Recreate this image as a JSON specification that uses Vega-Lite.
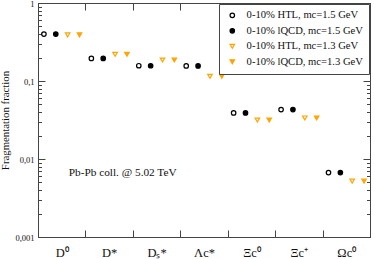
{
  "$schema": "https://vega.github.io/schema/vega-lite/v6.json",
  "width": 332,
  "height": 234,
  "autosize": "none",
  "padding": {"left": 38, "top": 3, "right": 4, "bottom": 22},
  "background": "white",
  "config": {
    "view": {"stroke": "#444", "strokeWidth": 1},
    "axis": {"domainColor": "#444", "tickColor": "#444", "labelFont": "Liberation Serif", "titleFont": "Liberation Serif", "labelColor": "#111", "titleColor": "#111", "grid": false, "titleFontWeight": "normal"},
    "legend": {"orient": "top-right", "offset": 1, "padding": 6, "rowPadding": 4.5, "symbolSize": 20, "symbolStrokeWidth": 1.2, "labelFont": "Liberation Serif", "labelFontSize": 10.6, "labelColor": "#111", "strokeColor": "#444", "fillColor": "white", "labelLimit": 0, "symbolOffset": 2, "labelOffset": 9}
  },
  "datasets": {
    "pts": [
      {"cat": "D⁰", "series": "0-10% HTL, mc=1.5 GeV", "value": 0.40},
      {"cat": "D⁰", "series": "0-10% lQCD, mc=1.5 GeV", "value": 0.40},
      {"cat": "D⁰", "series": "0-10% HTL, mc=1.3 GeV", "value": 0.39},
      {"cat": "D⁰", "series": "0-10% lQCD, mc=1.3 GeV", "value": 0.39},
      {"cat": "D*", "series": "0-10% HTL, mc=1.5 GeV", "value": 0.195},
      {"cat": "D*", "series": "0-10% lQCD, mc=1.5 GeV", "value": 0.195},
      {"cat": "D*", "series": "0-10% HTL, mc=1.3 GeV", "value": 0.22},
      {"cat": "D*", "series": "0-10% lQCD, mc=1.3 GeV", "value": 0.22},
      {"cat": "Dₛ*", "series": "0-10% HTL, mc=1.5 GeV", "value": 0.157},
      {"cat": "Dₛ*", "series": "0-10% lQCD, mc=1.5 GeV", "value": 0.157},
      {"cat": "Dₛ*", "series": "0-10% HTL, mc=1.3 GeV", "value": 0.186},
      {"cat": "Dₛ*", "series": "0-10% lQCD, mc=1.3 GeV", "value": 0.186},
      {"cat": "Λc*", "series": "0-10% HTL, mc=1.5 GeV", "value": 0.156},
      {"cat": "Λc*", "series": "0-10% lQCD, mc=1.5 GeV", "value": 0.156},
      {"cat": "Λc*", "series": "0-10% HTL, mc=1.3 GeV", "value": 0.115},
      {"cat": "Λc*", "series": "0-10% lQCD, mc=1.3 GeV", "value": 0.115},
      {"cat": "Ξc⁰", "series": "0-10% HTL, mc=1.5 GeV", "value": 0.039},
      {"cat": "Ξc⁰", "series": "0-10% lQCD, mc=1.5 GeV", "value": 0.039},
      {"cat": "Ξc⁰", "series": "0-10% HTL, mc=1.3 GeV", "value": 0.0316},
      {"cat": "Ξc⁰", "series": "0-10% lQCD, mc=1.3 GeV", "value": 0.0316},
      {"cat": "Ξc⁺", "series": "0-10% HTL, mc=1.5 GeV", "value": 0.043},
      {"cat": "Ξc⁺", "series": "0-10% lQCD, mc=1.5 GeV", "value": 0.043},
      {"cat": "Ξc⁺", "series": "0-10% HTL, mc=1.3 GeV", "value": 0.0336},
      {"cat": "Ξc⁺", "series": "0-10% lQCD, mc=1.3 GeV", "value": 0.0336},
      {"cat": "Ωc⁰", "series": "0-10% HTL, mc=1.5 GeV", "value": 0.0067},
      {"cat": "Ωc⁰", "series": "0-10% lQCD, mc=1.5 GeV", "value": 0.0067},
      {"cat": "Ωc⁰", "series": "0-10% HTL, mc=1.3 GeV", "value": 0.0052},
      {"cat": "Ωc⁰", "series": "0-10% lQCD, mc=1.3 GeV", "value": 0.0052}
    ],
    "note": [{"label": "Pb-Pb coll. @ 5.02 TeV"}]
  },
  "data": {"name": "pts"},
  "layer": [
    {
      "mark": {"type": "point", "opacity": 1, "size": 20, "strokeWidth": 1.2, "filled": false},
      "encoding": {
        "x": {"field": "cat", "type": "nominal", "sort": ["D⁰", "D*", "Dₛ*", "Λc*", "Ξc⁰", "Ξc⁺", "Ωc⁰"],
          "scale": {"paddingInner": 0, "paddingOuter": 0},
          "axis": {"orient": "bottom", "title": null, "tickBand": "extent", "tickSize": -7, "labelAngle": 0, "labelFontSize": 12.5, "labelPadding": 16, "domain": true}},
        "xOffset": {"field": "series", "type": "nominal", "sort": ["0-10% HTL, mc=1.5 GeV", "0-10% lQCD, mc=1.5 GeV", "0-10% HTL, mc=1.3 GeV", "0-10% lQCD, mc=1.3 GeV"], "scale": {"paddingInner": 0, "paddingOuter": 0.5}},
        "y": {"field": "value", "type": "quantitative", "scale": {"type": "log", "domain": [0.001, 1], "nice": false},
          "axis": {"orient": "left", "title": "Fragmentation fraction", "titleFontSize": 10.8, "titlePadding": 4, "values": [0.001, 0.01, 0.1, 1], "tickSize": -7, "labelFontSize": 8.5, "labelPadding": 11, "labelExpr": "replace(format(datum.value, '~g'), '.', ',')"}},
        "shape": {"field": "series", "type": "nominal",
          "scale": {"domain": ["0-10% HTL, mc=1.5 GeV", "0-10% lQCD, mc=1.5 GeV", "0-10% HTL, mc=1.3 GeV", "0-10% lQCD, mc=1.3 GeV"], "range": ["circle", "circle", "triangle-down", "triangle-down"]}, "legend": {"title": null}},
        "fill": {"field": "series", "type": "nominal",
          "scale": {"domain": ["0-10% HTL, mc=1.5 GeV", "0-10% lQCD, mc=1.5 GeV", "0-10% HTL, mc=1.3 GeV", "0-10% lQCD, mc=1.3 GeV"], "range": ["white", "black", "white", "orange"]}, "legend": {"title": null}},
        "stroke": {"field": "series", "type": "nominal",
          "scale": {"domain": ["0-10% HTL, mc=1.5 GeV", "0-10% lQCD, mc=1.5 GeV", "0-10% HTL, mc=1.3 GeV", "0-10% lQCD, mc=1.3 GeV"], "range": ["black", "black", "orange", "orange"]}, "legend": {"title": null}}
      }
    },
    {
      "mark": {"type": "point", "opacity": 0},
      "encoding": {
        "x": {"field": "cat", "type": "nominal", "sort": ["D⁰", "D*", "Dₛ*", "Λc*", "Ξc⁰", "Ξc⁺", "Ωc⁰"],
          "axis": {"orient": "top", "title": null, "tickBand": "extent", "tickSize": -7, "labels": false, "domain": true}},
        "y": {"field": "value", "type": "quantitative",
          "axis": {"orient": "right", "title": null, "values": [0.001, 0.01, 0.1, 1], "tickSize": -7, "labels": false}}
      }
    },
    {
      "mark": {"type": "point", "opacity": 0},
      "encoding": {
        "y": {"field": "value", "type": "quantitative",
          "axis": {"orient": "left", "title": null, "values": [0.002, 0.003, 0.004, 0.005, 0.006, 0.007, 0.008, 0.009, 0.02, 0.03, 0.04, 0.05, 0.06, 0.07, 0.08, 0.09, 0.2, 0.3, 0.4, 0.5, 0.6, 0.7, 0.8, 0.9], "tickSize": -3.5, "labels": false, "domain": false}}
      }
    },
    {
      "mark": {"type": "point", "opacity": 0},
      "encoding": {
        "y": {"field": "value", "type": "quantitative",
          "axis": {"orient": "right", "title": null, "values": [0.002, 0.003, 0.004, 0.005, 0.006, 0.007, 0.008, 0.009, 0.02, 0.03, 0.04, 0.05, 0.06, 0.07, 0.08, 0.09, 0.2, 0.3, 0.4, 0.5, 0.6, 0.7, 0.8, 0.9], "tickSize": -3.5, "labels": false, "domain": false}}
      }
    },
    {
      "data": {"name": "note"},
      "mark": {"type": "text", "font": "Liberation Serif", "fontSize": 11.3, "align": "left", "baseline": "middle", "color": "#111", "dx": 7},
      "encoding": {
        "text": {"field": "label"},
        "x": {"datum": "D⁰", "type": "nominal", "axis": null},
        "y": {"datum": 0.0066, "type": "quantitative", "axis": null}
      }
    }
  ],
  "resolve": {"axis": {"x": "independent", "y": "independent"}}
}
